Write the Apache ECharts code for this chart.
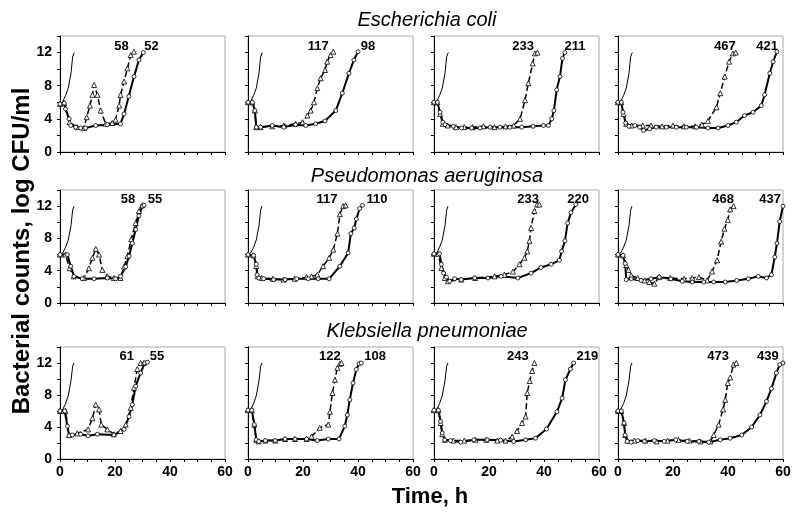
<!DOCTYPE html>
<html>
<head>
<meta charset="utf-8">
<script src="https://cdn.jsdelivr.net/npm/echarts@6/dist/echarts.min.js"></script>
<style>
  html, body { margin: 0; padding: 0; background: #fff; }
  #chart { width: 800px; height: 525px; }
</style>
</head>
<body>
<div id="chart"></div>
<script>
// organisms (one row each) and tick labels
const organisms = ['Escherichia coli', 'Pseudomonas aeruginosa', 'Klebsiella pneumoniae']
const xTicks = [0, 20, 40, 60]
const yTicks = [0, 4, 8, 12]

// drug-free growth control, [time h, log CFU/ml]
const controlEcoli = [[0, 5.8], [1, 6.1], [2, 6.8], [3, 7.7], [4, 9.5], [4.6, 11.5], [5.2, 12]]
const controlPseudo = [[0, 6.0], [1, 6.2], [2, 6.9], [3, 7.8], [4, 9.6], [4.6, 11.5], [5.1, 12]]
const controlKlebs = [[0, 6.0], [1, 6.2], [2, 6.9], [3, 7.9], [4, 9.8], [4.6, 11.6], [5.1, 12]]

// E. coli
const ecoli1Solid = [[0, 5.8], [1.5, 5.9], [2, 5.2], [3.3, 4.0], [3.9, 3.2], [5.7, 3.0], [7.5, 2.9], [9.3, 2.9], [13, 3.2], [17.2, 3.3], [22, 3.4], [23.3, 4.6], [25, 6.7], [26.9, 9.1], [28.7, 11.1], [30.3, 12.0]]
const ecoli1Dashed = [[0, 5.8], [1.5, 5.9], [3.5, 3.6], [6.3, 3.0], [8.7, 2.9], [9.7, 4.2], [10.9, 5.6], [11.8, 6.9], [12.4, 8.1], [13.6, 6.9], [14.8, 5.0], [16.6, 3.4], [19, 3.5], [20.2, 3.9], [21.5, 5.6], [22, 6.9], [23.3, 8.5], [24.5, 10.1], [25.7, 11.7], [26.9, 12.1]]
const ecoli2Solid = [[0, 6.0], [1.6, 6.0], [2.5, 5.0], [3, 3.0], [4.6, 3.0], [8.8, 3.2], [13, 3.0], [17.3, 3.3], [21, 3.2], [24.6, 3.4], [28, 3.75], [31.9, 5.0], [34.3, 7.1], [36.7, 9.5], [38.5, 11.1], [40, 12.1]]
const ecoli2Dashed = [[0, 6.0], [1.6, 6.0], [2.5, 5.0], [3, 3.0], [4.6, 3.0], [8.8, 3.1], [13, 3.2], [17.3, 3.4], [19.8, 3.6], [21.6, 4.4], [22.8, 5.0], [24, 6.0], [25.2, 7.7], [26.4, 8.9], [28, 9.9], [28.8, 10.9], [30, 11.7], [31, 12.1]]
const ecoli3Solid = [[0, 6.0], [1.2, 6.0], [2.2, 4.8], [3.2, 3.6], [4, 3.3], [7, 3.1], [10, 2.9], [13.7, 2.9], [16.7, 2.9], [20.4, 3.0], [24, 3.0], [27.6, 3.0], [31.9, 3.0], [36.1, 3.1], [39.8, 3.2], [41.6, 3.2], [42.8, 4.0], [43.6, 5.0], [44.6, 7.5], [45.8, 9.1], [46.7, 11.3], [47.6, 12.0]]
const ecoli3Dashed = [[0, 6.0], [1.2, 6.0], [2.2, 4.6], [3.2, 3.4], [5, 3.2], [8, 3.0], [11, 3.0], [14, 3.0], [18, 3.1], [22, 3.0], [26, 3.1], [29, 3.2], [31.3, 4.0], [33.1, 6.25], [34.3, 8.3], [35.9, 10.7], [36.7, 11.9], [37.6, 12.0]]
const ecoli4Solid = [[0, 6.0], [1.2, 6.0], [1.8, 4.8], [2.8, 3.5], [4, 3.1], [6.1, 3.2], [7.9, 3.0], [9.3, 2.6], [11.5, 2.8], [13.9, 3.0], [17.6, 3.0], [21.2, 3.0], [24.8, 3.0], [28.5, 3.0], [32.7, 2.9], [36.4, 2.9], [40, 3.2], [43, 3.6], [46, 4.4], [49.1, 4.8], [52.1, 5.6], [53.3, 6.9], [55.2, 9.5], [56.4, 10.9], [57.8, 12.1]]
const ecoli4Dashed = [[0, 6.0], [1.2, 6.0], [2, 4.6], [3, 3.4], [5, 3.2], [9, 3.2], [12, 3.2], [16, 3.1], [20, 3.2], [24, 3.1], [28, 3.1], [30.5, 3.3], [32.7, 3.75], [35.8, 5.4], [37.2, 7.1], [38.8, 9.1], [40.4, 10.9], [41.8, 11.9], [42.8, 12.0]]

// P. aeruginosa
const pseudo1Solid = [[0, 6.0], [2.7, 6.0], [3.9, 4.55], [5.1, 3.3], [8.1, 3.0], [12.4, 3.0], [17.2, 3.1], [20.2, 3.0], [22, 3.3], [23.9, 4.5], [25.1, 5.8], [26.3, 7.4], [27.5, 9.1], [28.7, 10.8], [29.9, 12.0], [30.5, 12.1]]
const pseudo1Dashed = [[0, 6.0], [2, 6.0], [3.5, 4.3], [5, 3.3], [8.7, 3.1], [10.5, 4.3], [11.8, 5.6], [13, 6.7], [14.2, 6.0], [15.4, 4.1], [17.2, 3.3], [19.6, 3.1], [22, 3.1], [23.3, 4.5], [24.5, 5.8], [25.9, 7.9], [27.5, 9.9], [28.7, 11.4], [29.9, 12.1]]
const pseudo2Solid = [[0, 6.0], [2, 5.9], [3, 4.8], [3.3, 3.5], [3.9, 3.1], [5.7, 3.0], [9.3, 2.9], [13.5, 2.9], [17.7, 3.0], [21.9, 3.0], [25.5, 3.0], [29.5, 3.0], [33.4, 4.55], [36.4, 6.2], [37.4, 8.6], [38.6, 9.3], [39.4, 10.4], [40.6, 11.7], [41.6, 12.1]]
const pseudo2Dashed = [[0, 6.0], [2, 5.9], [3, 4.6], [3.5, 3.3], [5, 3.1], [9, 3.0], [13, 2.9], [17, 3.0], [21.3, 3.2], [23.1, 3.3], [25.2, 3.5], [27.3, 4.55], [29.5, 5.6], [31, 6.6], [32.5, 8.6], [33.4, 11.0], [34.6, 12.0], [35.5, 12.1]]
const pseudo3Solid = [[0, 6.1], [2, 6.1], [2.7, 4.8], [3.5, 3.7], [4.5, 3.2], [5.7, 2.7], [7.5, 3.0], [9.9, 2.9], [14.8, 3.1], [19.6, 3.1], [24.4, 3.3], [30.5, 3.1], [35.3, 3.7], [38.9, 4.4], [42.6, 4.8], [45.6, 5.3], [46.4, 6.4], [47.6, 7.7], [48.6, 9.9], [49.8, 11.2], [51.6, 12.2]]
const pseudo3Dashed = [[0, 6.1], [1.5, 6.1], [2.7, 4.35], [3.9, 3.1], [5.1, 2.7], [9.9, 2.9], [15, 3.1], [22, 3.3], [25.6, 3.5], [28.7, 3.9], [31.1, 4.8], [32.9, 5.6], [33.9, 6.4], [34.7, 7.7], [35.3, 9.3], [36.5, 11.4], [37.5, 12.2], [38.3, 12.2]]
const pseudo4Solid = [[0, 6.0], [1.8, 5.9], [2.6, 4.9], [3, 2.9], [4.8, 3.0], [8.4, 2.8], [12, 3.0], [15, 3.2], [19.2, 3.0], [23.4, 2.7], [27, 2.6], [31.2, 2.6], [34.8, 2.6], [39, 2.6], [43.2, 2.8], [47.4, 3.0], [51, 3.3], [54, 3.1], [55.8, 3.5], [57, 5.7], [57.8, 7.4], [58.8, 10.1], [60, 12.0]]
const pseudo4Dashed = [[0, 6.0], [1.8, 5.9], [3, 4.7], [3.8, 4.1], [4.8, 3.4], [7.2, 3.1], [9.6, 2.8], [11.4, 2.6], [13.2, 2.4], [15, 3.2], [19, 3.1], [24, 3.0], [27, 3.1], [29.4, 3.2], [32.4, 2.8], [34.2, 3.9], [36, 5.3], [37.5, 7.6], [38.7, 9.2], [39.9, 10.3], [40.8, 11.6], [42, 12.0]]

// K. pneumoniae
const klebs1Solid = [[0, 6.0], [1.7, 6.0], [2.7, 4.1], [3.3, 2.9], [4.5, 3.0], [7.5, 3.1], [10.2, 2.9], [13.6, 3.1], [19.6, 3.0], [23.3, 3.7], [25.1, 5.3], [26.3, 6.8], [27.5, 9.1], [29.3, 10.75], [30.8, 12.0], [31.8, 12.1]]
const klebs1Dashed = [[0, 6.0], [2, 6.0], [3.3, 3.0], [6.3, 3.2], [10.2, 3.7], [11.8, 5.1], [13, 6.8], [14.2, 6.2], [15, 4.3], [17.2, 3.7], [19.6, 3.1], [22, 3.5], [23.9, 4.3], [25.7, 6.4], [26.9, 8.9], [28.1, 11.25], [29.3, 12.0], [30.5, 12.0]]
const klebs2Solid = [[0, 6.1], [1.4, 6.1], [2.3, 4.3], [3, 2.4], [3.9, 2.2], [6.3, 2.3], [9.9, 2.3], [13.5, 2.5], [17.1, 2.5], [21.3, 2.5], [25.2, 2.3], [29.2, 2.5], [33.1, 2.5], [35.2, 4.1], [36.1, 5.5], [37, 7.4], [38.2, 9.5], [39.4, 11.2], [40.4, 11.9], [41.2, 12.0]]
const klebs2Dashed = [[0, 6.1], [1.4, 6.1], [2.3, 4.3], [3, 2.4], [3.9, 2.2], [6.3, 2.3], [9.9, 2.3], [13.5, 2.5], [17.1, 2.5], [21.3, 2.5], [23.1, 2.8], [26.1, 3.9], [29.2, 4.3], [29.8, 5.9], [30.7, 8.25], [31.6, 9.9], [32.5, 11.4], [33.4, 11.9], [34, 12.0]]
const klebs3Solid = [[0, 6.1], [1.6, 6.1], [2.4, 4.7], [3, 3.25], [3.9, 2.4], [6, 2.3], [9.7, 2.1], [14.5, 2.4], [19.3, 2.4], [24.2, 2.35], [29, 2.2], [33.3, 2.4], [36.9, 2.6], [40.9, 3.75], [44.7, 5.9], [46.6, 7.6], [47.8, 9.9], [49.6, 11.25], [50.8, 12.0]]
const klebs3Dashed = [[0, 6.1], [1.6, 6.1], [2.4, 4.5], [3, 3.1], [4, 2.4], [7, 2.3], [11, 2.3], [15, 2.4], [19, 2.4], [23, 2.3], [26, 2.3], [28.4, 2.8], [30.2, 3.5], [32, 4.5], [33.3, 5.3], [33.9, 8.25], [34.8, 9.75], [35.7, 11.0], [36.5, 12.0]]
const klebs4Solid = [[0, 6.0], [1.2, 6.0], [2.2, 4.5], [2.6, 3.0], [3.4, 2.2], [4.8, 2.1], [7.2, 2.3], [9.6, 2.2], [13.2, 2.3], [16.8, 2.2], [21, 2.4], [25.2, 2.2], [29.4, 2.2], [33, 2.1], [37.2, 2.4], [40.8, 2.6], [45, 3.0], [48.6, 4.0], [51.6, 5.5], [54, 7.2], [55.8, 8.8], [57.6, 10.75], [58.8, 11.8], [60, 12.0]]
const klebs4Dashed = [[0, 6.0], [1.2, 6.0], [2.2, 4.5], [2.6, 3.0], [3.4, 2.3], [6, 2.3], [10, 2.3], [14, 2.2], [18, 2.3], [22, 2.4], [26, 2.3], [30, 2.2], [33.6, 2.2], [34.8, 3.0], [36.6, 4.3], [38.2, 6.2], [39, 7.4], [39.9, 9.5], [40.8, 10.2], [42, 11.8], [43, 12.0]]

// numbers printed above each curve end: [text, time h]
const ecoliLabels = [[['58', 22.4], ['52', 33.3]], [['117', 25.5], ['98', 43.6]], [['233', 32.4], ['211', 51.3]], [['467', 38.9], ['421', 54.2]]]
const pseudoLabels = [[['58', 24.7], ['55', 34.5]], [['117', 28.7], ['110', 46.9]], [['233', 34.2], ['220', 52.4]], [['468', 38.2], ['437', 55.3]]]
const klebsLabels = [[['61', 24.3], ['55', 35.3]], [['122', 29.8], ['108', 46.2]], [['243', 30.5], ['219', 55.8]], [['473', 36.4], ['439', 54.5]]]
const labelLevel = 12.8

const rows = [
  { control: controlEcoli, solid: [ecoli1Solid, ecoli2Solid, ecoli3Solid, ecoli4Solid], dashed: [ecoli1Dashed, ecoli2Dashed, ecoli3Dashed, ecoli4Dashed], labels: ecoliLabels },
  { control: controlPseudo, solid: [pseudo1Solid, pseudo2Solid, pseudo3Solid, pseudo4Solid], dashed: [pseudo1Dashed, pseudo2Dashed, pseudo3Dashed, pseudo4Dashed], labels: pseudoLabels },
  { control: controlKlebs, solid: [klebs1Solid, klebs2Solid, klebs3Solid, klebs4Solid], dashed: [klebs1Dashed, klebs2Dashed, klebs3Dashed, klebs4Dashed], labels: klebsLabels }
]

const FONT = 'Liberation Sans, Arial, Helvetica, sans-serif'
const colLeft = [60, 248, 434, 618]
const rowTop = [36, 190, 347]
const rowH = [116, 113, 112]

let grids = [], xAxes = [], yAxes = [], series = []
rows.forEach((row, r) => {
  colLeft.forEach((left, c) => {
    const i = grids.length
    grids.push({ left: left, top: rowTop[r], width: 165, height: rowH[r], show: true, borderColor: '#a8a8a8', borderWidth: 1, backgroundColor: 'transparent' })
    xAxes.push({
      gridIndex: i, type: 'value', min: 0, max: 60, interval: 5,
      axisLine: { onZero: false, lineStyle: { color: '#000', width: 1 } },
      axisTick: { length: 3, lineStyle: { color: '#000' } },
      splitLine: { show: false },
      axisLabel: {
        show: r === 2, margin: 6, color: '#000', fontSize: 14, fontWeight: 'bold', fontFamily: FONT,
        formatter: v => xTicks.includes(v) ? String(v) : ''
      }
    })
    yAxes.push({
      gridIndex: i, type: 'value', min: 0, max: 14, interval: 2,
      axisLine: { show: true, onZero: false, lineStyle: { color: '#000', width: 1 } },
      axisTick: { show: true, length: 3, lineStyle: { color: '#000' } },
      splitLine: { show: false },
      axisLabel: {
        show: c === 0, margin: 8, color: '#000', fontSize: 14, fontWeight: 'bold', fontFamily: FONT,
        formatter: v => yTicks.includes(v) ? String(v) : ''
      }
    })
    series.push({
      type: 'line', xAxisIndex: i, yAxisIndex: i, data: row.control, showSymbol: false,
      lineStyle: { color: '#000', width: 1 }, animation: false
    })
    series.push({
      type: 'line', xAxisIndex: i, yAxisIndex: i, data: row.dashed[c],
      symbol: 'triangle', symbolSize: 5,
      itemStyle: { color: '#fff', borderColor: '#000', borderWidth: 0.8 },
      lineStyle: { color: '#000', width: 1.5, type: [6, 3] }, animation: false
    })
    series.push({
      type: 'line', xAxisIndex: i, yAxisIndex: i, data: row.solid[c],
      symbol: 'circle', symbolSize: 4,
      itemStyle: { color: '#fff', borderColor: '#000', borderWidth: 0.8 },
      lineStyle: { color: '#000', width: 2 }, animation: false
    })
    series.push({
      type: 'scatter', xAxisIndex: i, yAxisIndex: i, symbolSize: 0, animation: false,
      itemStyle: { color: '#000', opacity: 1 },
      data: row.labels[c].map(d => [d[1], labelLevel, d[0]]),
      label: {
        show: true, position: 'inside', formatter: p => p.data[2], opacity: 1,
        color: '#000', fontSize: 13, fontWeight: 'bold', fontFamily: FONT,
        textBorderWidth: 0, textBorderColor: 'transparent'
      }
    })
  })
})

const chart = echarts.init(document.getElementById('chart'))
chart.setOption({
  backgroundColor: '#fff',
  animation: false,
  title: organisms.map((name, r) => ({
    text: name, left: 422, top: [5, 161, 316][r], textAlign: 'center',
    textStyle: { fontSize: 20, fontStyle: 'italic', fontWeight: 'normal', color: '#000', fontFamily: FONT }
  })),
  grid: grids,
  xAxis: xAxes,
  yAxis: yAxes,
  series: series,
  graphic: [
    {
      type: 'text', x: 22, y: 251, rotation: Math.PI / 2,
      style: { text: 'Bacterial counts, log CFU/ml', fill: '#000', font: 'bold 24px ' + FONT, textAlign: 'center', textVerticalAlign: 'middle' }
    },
    {
      type: 'text', x: 430, y: 497,
      style: { text: 'Time, h', fill: '#000', font: 'bold 22px ' + FONT, textAlign: 'center', textVerticalAlign: 'middle' }
    }
  ]
})
</script>
</body>
</html>
